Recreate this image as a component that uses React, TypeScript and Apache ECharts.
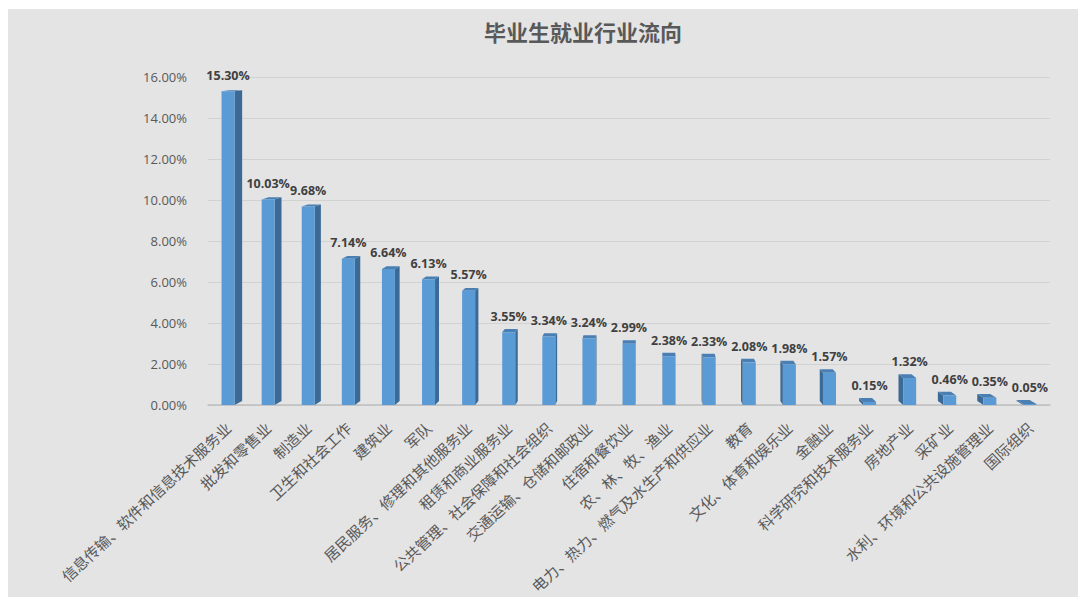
import React, { useEffect, useRef } from "react";
import * as echarts from "echarts";

const titleText = "毕业生就业行业流向";

const categories = [
  "信息传输、软件和信息技术服务业",
  "批发和零售业",
  "制造业",
  "卫生和社会工作",
  "建筑业",
  "军队",
  "居民服务、修理和其他服务业",
  "租赁和商业服务业",
  "公共管理、社会保障和社会组织",
  "交通运输、仓储和邮政业",
  "住宿和餐饮业",
  "农、林、牧、渔业",
  "电力、热力、燃气及水生产和供应业",
  "教育",
  "文化、体育和娱乐业",
  "金融业",
  "科学研究和技术服务业",
  "房地产业",
  "采矿业",
  "水利、环境和公共设施管理业",
  "国际组织",
];

const values = [
  15.3, 10.03, 9.68, 7.14, 6.64, 6.13, 5.57, 3.55, 3.34, 3.24, 2.99, 2.38,
  2.33, 2.08, 1.98, 1.57, 0.15, 1.32, 0.46, 0.35, 0.05,
];

const yMin = 0;
const yMax = 16;
const yInterval = 2;

export default function App() {
  const ref = useRef<HTMLDivElement>(null);

  useEffect(() => {
    if (!ref.current) return;
    const chart = echarts.init(ref.current, null, { renderer: "svg" });

    const renderItem = (params: any, api: any) => {
      const idx = api.value(0);
      const v = api.value(1);
      const top = api.coord([idx, v]);
      const base = api.coord([idx, 0]);
      const cx = top[0];
      const ty = top[1];
      const by = base[1];
      const w = 13;
      const fx = cx - w / 2;
      let dx = (650 - cx) * 0.018;
      if (dx > 8) dx = 8;
      if (dx < -8) dx = -8;
      const dyT = 1 + (ty - 77) * 0.009;
      const dyB = 1 + (by - 77) * 0.009;
      const sidePts =
        dx >= 0
          ? [
              [fx + w, ty],
              [fx + w + dx, ty - dyT],
              [fx + w + dx, by - dyB],
              [fx + w, by],
            ]
          : [
              [fx, ty],
              [fx + dx, ty - dyT],
              [fx + dx, by - dyB],
              [fx, by],
            ];
      const topPts = [
        [fx, ty],
        [fx + dx, ty - dyT],
        [fx + w + dx, ty - dyT],
        [fx + w, ty],
      ];
      return {
        type: "group",
        children: [
          {
            type: "polygon",
            shape: { points: sidePts },
            style: { fill: "#3c6a96" },
          },
          {
            type: "polygon",
            shape: { points: topPts },
            style: { fill: "#4a7fb3" },
          },
          {
            type: "rect",
            shape: { x: fx, y: ty, width: w, height: by - ty },
            style: { fill: "#5b9bd5" },
          },
          {
            type: "text",
            x: cx,
            y: ty - 16,
            style: {
              text: v.toFixed(2) + "%",
              align: "center",
              verticalAlign: "middle",
              fill: "#404040",
              font: "bold 12.5px 'Open Sans', sans-serif",
            },
          },
        ],
      };
    };

    chart.setOption({
      animation: false,
      backgroundColor: "transparent",
      title: {
        text: titleText,
        left: 578,
        top: 15,
        textAlign: "center",
        textStyle: {
          fontFamily: "Noto Sans CJK SC",
          fontSize: 22,
          fontWeight: "bold",
          color: "#595959",
        },
      },
      grid: { left: 208, right: 28, top: 77, bottom: 192 },
      xAxis: {
        type: "category",
        data: categories,
        axisTick: { show: false },
        axisLine: { lineStyle: { color: "#bfbfbf", width: 1.5 } },
        axisLabel: {
          interval: 0,
          rotate: 43,
          margin: 20,
          fontSize: 15,
          color: "#595959",
          fontFamily: "Noto Sans CJK SC",
        },
      },
      yAxis: {
        type: "value",
        min: yMin,
        max: yMax,
        interval: yInterval,
        axisLine: { show: false },
        axisTick: { show: false },
        axisLabel: {
          margin: 21,
          fontSize: 13,
          color: "#595959",
          fontFamily: "'Open Sans', sans-serif",
          formatter: (val: number) => val.toFixed(2) + "%",
        },
        splitLine: { lineStyle: { color: "#d2d2d2", width: 1 } },
      },
      series: [
        {
          type: "custom",
          renderItem,
          encode: { x: 0, y: 1 },
          data: values.map((v, i) => [i, v]),
          clip: false,
        },
      ],
    });

    return () => chart.dispose();
  }, []);

  return (
    <div
      style={{
        position: "absolute",
        left: 0,
        top: 0,
        width: 1078,
        height: 597,
        background: "#ffffff",
      }}
    >
      <div
        style={{
          position: "absolute",
          left: 8,
          top: 9,
          right: 0,
          bottom: 0,
          background: "#e4e4e4",
        }}
      />
      <div
        ref={ref}
        style={{ position: "absolute", left: 0, top: 0, width: 1078, height: 597 }}
      />
    </div>
  );
}
